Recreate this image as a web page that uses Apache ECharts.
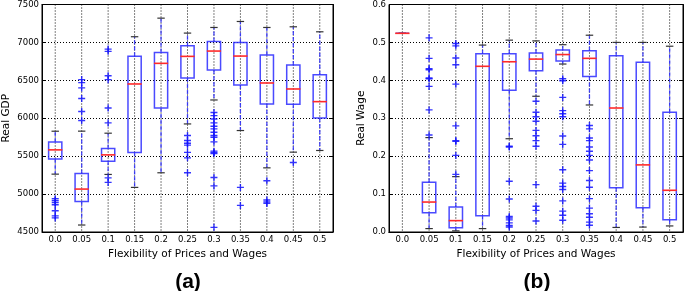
<!DOCTYPE html>
<html>
<head>
<meta charset="utf-8">
<script src="https://cdn.jsdelivr.net/npm/echarts@6/dist/echarts.min.js"></script>
<style>
html,body{margin:0;padding:0;background:#fff;}
#c{width:685px;height:291px;}
</style>
</head>
<body>
<div id="c"></div>
<script>
// ---- data ----
const categories = ['0.0','0.05','0.1','0.15','0.2','0.25','0.3','0.35','0.4','0.45','0.5'];

// GDP box stats: [lowerCap, q1, median, q3, upperCap]
const gdpLow    = [5263, 4592, 5259, 5088, 5281, 5925, 6241, 5838, 5346, 5553, 5575];
const gdpQ1     = [5461, 4901, 5434, 5548, 6136, 6531, 6636, 6439, 6189, 6184, 6004];
const gdpMedian = [5583, 5066, 5517, 6452, 6724, 6816, 6886, 6820, 6465, 6386, 6219];
const gdpQ3     = [5686, 5272, 5601, 6816, 6868, 6956, 7013, 7000, 6833, 6702, 6575];
const gdpHigh   = [5829, 5830, 5803, 7075, 7320, 7123, 7197, 7276, 7197, 7206, 7140];
const gdpOutliers = [
  [4940, 4915, 4890, 4860, 4780, 4712, 4686],
  [6510, 6470, 6400, 6260, 6090, 5970],
  [6912, 6882, 6561, 6509, 6136, 5939, 5214, 5154],
  [],
  [],
  [5772, 5706, 5670, 5645, 5550, 5478, 5281],
  [6075, 6035, 5991, 5939, 5895, 5860, 5816, 5772, 5750, 5688, 5566, 5549, 5535, 5219, 5108, 4561],
  [5088, 4851],
  [5175, 4921, 4895, 4877],
  [5417],
  []
];

// Wage box stats
const wageLow    = [0.524, 0.009, 0.003, 0.009, 0.246, 0.358, 0.443, 0.335, 0.012, 0.013, 0.016];
const wageQ1     = [0.524, 0.051, 0.011, 0.043, 0.374, 0.425, 0.451, 0.410, 0.117, 0.064, 0.032];
const wageMedian = [0.524, 0.079, 0.030, 0.437, 0.449, 0.456, 0.468, 0.458, 0.327, 0.177, 0.110];
const wageQ3     = [0.524, 0.131, 0.066, 0.470, 0.470, 0.472, 0.480, 0.478, 0.465, 0.448, 0.316];
const wageHigh   = [0.524, 0.249, 0.146, 0.493, 0.506, 0.504, 0.494, 0.519, 0.500, 0.500, 0.490];
const wageOutliers = [
  [],
  [0.512, 0.458, 0.431, 0.428, 0.406, 0.404, 0.384, 0.322, 0.256],
  [0.497, 0.491, 0.459, 0.441, 0.390, 0.280, 0.241, 0.239, 0.202, 0.152],
  [],
  [0.226, 0.224, 0.134, 0.087, 0.041, 0.037, 0.032, 0.024, 0.017, 0.013],
  [0.345, 0.316, 0.304, 0.292, 0.268, 0.254, 0.241, 0.226, 0.125, 0.068, 0.057, 0.029],
  [0.404, 0.399, 0.355, 0.320, 0.312, 0.304, 0.253, 0.231, 0.164, 0.129, 0.120, 0.112, 0.082, 0.055, 0.044, 0.031],
  [0.281, 0.272, 0.248, 0.241, 0.224, 0.213, 0.202, 0.190, 0.162, 0.136, 0.118, 0.088, 0.063, 0.048, 0.039, 0.026, 0.018],
  [],
  [],
  []
];

const gdpTicks = { min: 4500, max: 7500, interval: 500 };
const wageTicks = { min: 0, max: 0.6, interval: 0.1 };

// ---- build ----
function boxData(lo, q1, med, q3, hi) {
  return categories.map((c, i) => [i, lo[i], q1[i], med[i], q3[i], hi[i]]);
}
function outlierData(out) {
  const res = [];
  out.forEach((arr, i) => arr.forEach(v => res.push([i, v])));
  return res;
}

const BLUE = '#2a2aff';
function renderBox(params, api) {
  const x = api.value(0);
  const pLo = api.coord([x, api.value(1)]);
  const pQ1 = api.coord([x, api.value(2)]);
  const pMed = api.coord([x, api.value(3)]);
  const pQ3 = api.coord([x, api.value(4)]);
  const pHi = api.coord([x, api.value(5)]);
  const band = api.size([1, 0])[0];
  const bw = band * 0.5;
  const cw = band * 0.28;
  const cx = pMed[0];
  return {
    type: 'group',
    children: [
      { type: 'line', shape: { x1: cx, y1: pQ3[1], x2: cx, y2: pHi[1] },
        style: { stroke: BLUE, lineWidth: 1.3, lineDash: [4, 2], opacity: 0.85 } },
      { type: 'line', shape: { x1: cx, y1: pQ1[1], x2: cx, y2: pLo[1] },
        style: { stroke: BLUE, lineWidth: 1.3, lineDash: [4, 2], opacity: 0.85 } },
      { type: 'line', shape: { x1: cx - cw / 2, y1: pHi[1], x2: cx + cw / 2, y2: pHi[1] },
        style: { stroke: '#333', lineWidth: 1.2 } },
      { type: 'line', shape: { x1: cx - cw / 2, y1: pLo[1], x2: cx + cw / 2, y2: pLo[1] },
        style: { stroke: '#333', lineWidth: 1.2 } },
      { type: 'rect', shape: { x: cx - bw / 2, y: pQ3[1], width: bw, height: pQ1[1] - pQ3[1] },
        style: { fill: 'none', stroke: BLUE, lineWidth: 1.5, opacity: 0.85 } },
      { type: 'line', shape: { x1: cx - bw / 2 - 0.5, y1: pMed[1], x2: cx + bw / 2 + 0.5, y2: pMed[1] },
        style: { stroke: '#ff2a2a', lineWidth: 1.6 } }
    ]
  };
}
function renderVGrid(params, api) {
  const cs = params.coordSys;
  const p = api.coord([api.value(0), 0]);
  return {
    type: 'line',
    shape: { x1: p[0], y1: cs.y, x2: p[0], y2: cs.y + cs.height },
    style: { stroke: '#000', lineWidth: 1, lineDash: [1, 2] }
  };
}

const FONT = 'DejaVu Sans';
const grids = [
  { left: 40, right: 352, top: 4, bottom: 59, show: true, borderColor: '#000', borderWidth: 1 },
  { left: 389, right: 2, top: 4, bottom: 59, show: true, borderColor: '#000', borderWidth: 1 }
];

function xAxes(gi) {
  return [
    { type: 'category', gridIndex: gi, data: categories, position: 'bottom',
      axisLine: { lineStyle: { color: '#000' } },
      axisTick: { inside: true, alignWithLabel: true, length: 4, lineStyle: { color: '#000' } },
      axisLabel: { color: '#000', fontFamily: FONT, fontSize: 8.5, margin: 3, interval: 0 },
      splitLine: { show: false },
      name: 'Flexibility of Prices and Wages', nameLocation: 'middle', nameGap: 16,
      nameTextStyle: { color: '#000', fontFamily: FONT, fontSize: 10.5 } },
    { type: 'category', gridIndex: gi, data: categories, position: 'top',
      axisLine: { lineStyle: { color: '#000' } },
      axisTick: { inside: true, alignWithLabel: true, length: 4, lineStyle: { color: '#000' } },
      axisLabel: { show: false }, splitLine: { show: false } }
  ];
}
function yAxes(gi, t, name, gap, fmt) {
  return [
    { type: 'value', gridIndex: gi, position: 'left', min: t.min, max: t.max, interval: t.interval,
      axisLine: { show: true, lineStyle: { color: '#000' } },
      axisTick: { show: true, inside: true, length: 4, lineStyle: { color: '#000' } },
      axisLabel: { color: '#000', fontFamily: FONT, fontSize: 8.5, margin: 3, formatter: fmt },
      splitLine: { show: true, lineStyle: { color: '#000', type: [1, 2], width: 1 } },
      name: name, nameLocation: 'middle', nameGap: gap,
      nameTextStyle: { color: '#000', fontFamily: FONT, fontSize: 10.5 } },
    { type: 'value', gridIndex: gi, position: 'right', min: t.min, max: t.max, interval: t.interval,
      axisLine: { show: true, lineStyle: { color: '#000' } },
      axisTick: { show: true, inside: true, length: 4, lineStyle: { color: '#000' } },
      axisLabel: { show: false }, splitLine: { show: false } }
  ];
}

const crossPath = 'path://M4,0h2v4h4v2h-4v4h-2v-4h-4v-2h4z';

const option = {
  animation: false,
  backgroundColor: '#fff',
  grid: grids,
  xAxis: [...xAxes(0), ...xAxes(1)],
  yAxis: [...yAxes(0, gdpTicks, 'Real GDP', 30, v => String(v)),
          ...yAxes(1, wageTicks, 'Real Wage', 22, v => v.toFixed(1))],
  graphic: [
    { type: 'text', x: 188, y: 282, style: { text: '(a)', textAlign: 'center', textVerticalAlign: 'middle',
      font: 'bold 21px "Liberation Sans"', fill: '#000' } },
    { type: 'text', x: 537, y: 282, style: { text: '(b)', textAlign: 'center', textVerticalAlign: 'middle',
      font: 'bold 21px "Liberation Sans"', fill: '#000' } }
  ],
  series: [
    { type: 'custom', xAxisIndex: 0, yAxisIndex: 0, z: 1, renderItem: renderVGrid,
      data: categories.map((c, i) => [i]), silent: true },
    { type: 'custom', xAxisIndex: 2, yAxisIndex: 2, z: 1, renderItem: renderVGrid,
      data: categories.map((c, i) => [i]), silent: true },
    { type: 'custom', xAxisIndex: 0, yAxisIndex: 0, z: 2, renderItem: renderBox,
      data: boxData(gdpLow, gdpQ1, gdpMedian, gdpQ3, gdpHigh), encode: { x: 0, y: [1, 2, 3, 4, 5] } },
    { type: 'custom', xAxisIndex: 2, yAxisIndex: 2, z: 2, renderItem: renderBox,
      data: boxData(wageLow, wageQ1, wageMedian, wageQ3, wageHigh), encode: { x: 0, y: [1, 2, 3, 4, 5] } },
    { type: 'scatter', xAxisIndex: 0, yAxisIndex: 0, z: 3, symbol: crossPath, symbolSize: 7,
      itemStyle: { color: '#1010ff', opacity: 0.85 }, data: outlierData(gdpOutliers) },
    { type: 'scatter', xAxisIndex: 2, yAxisIndex: 2, z: 3, symbol: crossPath, symbolSize: 7,
      itemStyle: { color: '#1010ff', opacity: 0.85 }, data: outlierData(wageOutliers) }
  ]
};

const chart = echarts.init(document.getElementById('c'), null, { renderer: 'canvas' });
chart.setOption(option);
</script>
</body>
</html>
